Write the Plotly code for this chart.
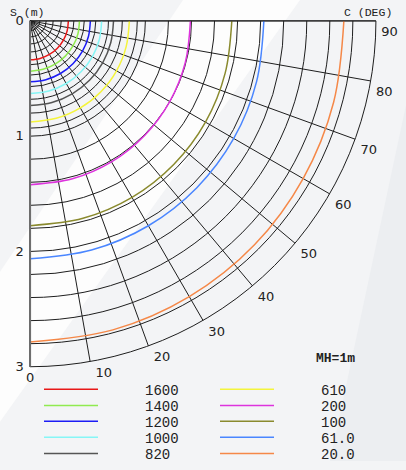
import plotly.graph_objects as go

W, H = 406, 470

# ---- data -------------------------------------------------------------
c_angles = [0, 15, 30, 45, 60, 75, 90]          # C (DEG)
levels = ["1600", "1400", "1200", "1000", "820", "610", "200", "100", "61.0", "20.0"]
colors = ["#e81818", "#90ea50", "#1c1cf5", "#86f6f6", "#555555",
          "#f4f43c", "#dd33dd", "#8a8a2e", "#4a86ff", "#f58848"]

r_1600 = [0.338, 0.337, 0.336, 0.335, 0.334, 0.333, 0.332]
r_1400 = [0.436, 0.435, 0.434, 0.432, 0.431, 0.430, 0.428]
r_1200 = [0.529, 0.528, 0.527, 0.526, 0.525, 0.524, 0.523]
r_1000 = [0.630, 0.629, 0.627, 0.625, 0.623, 0.622, 0.621]
r_820 = [0.735, 0.733, 0.731, 0.729, 0.727, 0.725, 0.724]
r_610 = [0.877, 0.875, 0.872, 0.869, 0.866, 0.863, 0.861]
r_200 = [1.421, 1.418, 1.412, 1.405, 1.399, 1.394, 1.391]
r_100 = [1.776, 1.773, 1.768, 1.762, 1.757, 1.752, 1.750]
r_61 = [2.064, 2.058, 2.052, 2.046, 2.040, 2.034, 2.028]
r_20 = [2.785, 2.775, 2.762, 2.750, 2.735, 2.726, 2.722]
radii = [r_1600, r_1400, r_1200, r_1000, r_820, r_610, r_200, r_100, r_61, r_20]

# grid circles (S, m) and angular spokes (C, deg)
grid_r = [0, 0.085, 0.14, 0.2, 0.27, 0.38, 0.47, 0.57, 0.68, 0.8, 0.93, 1.0,
          1.2, 1.4, 1.6, 1.8, 2.0, 2.2, 2.4, 2.6, 2.8, 3.0]
s_labels = {0: "0", 1.0: "1", 2.0: "2", 3.0: "3"}
c_ticks = [0, 10, 20, 30, 40, 50, 60, 70, 80, 90]
c_tick_labels = [str(v) for v in c_ticks]
s_max = 3.0

# ---- figure -----------------------------------------------------------
fig = go.Figure()
legend_ids = ["legend"] + ["legend%d" % i for i in range(2, len(levels) + 1)]
for name, col, r, lid in zip(levels, colors, radii, legend_ids):
    fig.add_trace(go.Scatterpolar(
        r=r, theta=c_angles, mode="lines", name="\u00a0" * 5 + name,
        line=dict(color=col, width=1.5, shape="spline"),
        legend=lid, hoverinfo="skip"))

# C-angle labels just outside the outer ring (invisible markers give the offset)
fig.add_trace(go.Scatterpolar(
    r=[s_max] * len(c_ticks), theta=c_ticks, mode="markers+text", text=c_tick_labels,
    textposition=["bottom center"] + ["bottom right"] * (len(c_ticks) - 1),
    marker=dict(size=7, color="rgba(0,0,0,0)"),
    cliponaxis=False, showlegend=False,
    textfont=dict(family="DejaVu Sans", size=13, color="#222"), hoverinfo="skip"))

GRID = "#1e1e1e"
ox, oy, R = 26.7, 21.3, 352.6  # pixel placement of the quarter disk


def px(x):
    return x / W


def py(y):
    return 1 - y / H


layout = dict(
    width=W, height=H,
    margin=dict(l=0, r=0, t=0, b=0),
    paper_bgcolor="#f3f4f6",
    plot_bgcolor="rgba(0,0,0,0)",
    polar=dict(
        domain=dict(x=[px(ox), px(ox + R)], y=[py(oy + R), py(oy)]),
        sector=[-90, 0],
        bgcolor="rgba(0,0,0,0)",
        radialaxis=dict(
            range=[0, s_max], tickmode="array", tickvals=grid_r,
            ticktext=[s_labels.get(v, "") for v in grid_r],
            angle=-90, side="clockwise", ticks="", tickangle=-90, showline=True,
            linecolor="#6e6e6e", linewidth=2, gridcolor=GRID, gridwidth=1,
            tickfont=dict(family="DejaVu Sans", size=13, color="#222")),
        angularaxis=dict(
            rotation=-90, direction="counterclockwise", tickmode="array",
            tickvals=c_ticks, ticks="", showticklabels=False,
            showline=True, linecolor=GRID, linewidth=1, gridcolor=GRID, gridwidth=1),
    ),
    annotations=[
        dict(text="S (m)", x=px(27), y=py(13), xref="paper", yref="paper",
             showarrow=False, xanchor="center", yanchor="middle",
             font=dict(family="Liberation Mono", size=11.5, color="#222")),
        dict(text="C (DEG)", x=px(368), y=py(13), xref="paper", yref="paper",
             showarrow=False, xanchor="center", yanchor="middle",
             font=dict(family="Liberation Mono", size=11.5, color="#222")),
        dict(text="<b>MH=1m</b>", x=px(335), y=py(366), xref="paper", yref="paper",
             showarrow=False, xanchor="center", yanchor="middle",
             font=dict(family="Liberation Mono", size=13, color="#222")),
    ],
    shapes=[
        dict(type="path", xref="paper", yref="paper", layer="below", line_width=0,
             fillcolor="#fdfdfd",
             path="M %f,1 L %f,1 L 0,%f L 0,%f Z" % (px(183), px(300), py(430), py(277))),
        dict(type="path", xref="paper", yref="paper", layer="below", line_width=0,
             fillcolor="#eceef1",
             path="M 1,%f L 1,0 L %f,0 Z" % (py(107), px(330))),
    ],
    showlegend=True,
)

# one small legend per entry, laid out as two columns of five rows
col_x = [39, 215]
row_y = [397.3, 413.7, 430.0, 446.3, 462.7]
for i, lid in enumerate(legend_ids):
    layout[lid] = dict(
        x=px(col_x[i // 5]), y=py(row_y[i % 5]), xanchor="left", yanchor="middle",
        bgcolor="rgba(0,0,0,0)", borderwidth=0, itemwidth=54,
        font=dict(family="Liberation Mono", size=14, color="#222"),
        orientation="v")

fig.update_layout(**layout)
fig.write_html("out.html", config={"displayModeBar": False},
               post_script="document.body.style.margin='0';document.body.style.overflow='hidden';")
